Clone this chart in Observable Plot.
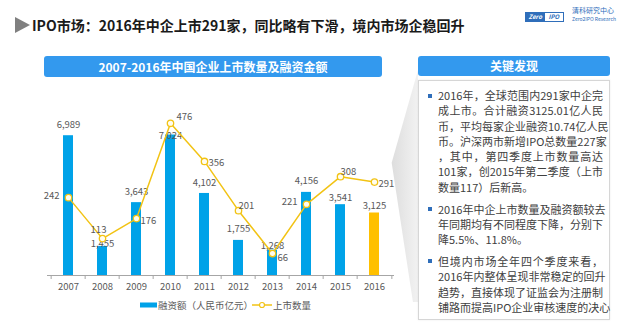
<!DOCTYPE html>
<html>
<head>
<meta charset="utf-8">
<script src="https://cdn.jsdelivr.net/npm/d3@7"></script>
<script src="https://cdn.jsdelivr.net/npm/@observablehq/plot@0.6"></script>
<style>
  html, body { margin: 0; padding: 0; background: #fff; }
  #page { position: relative; width: 631px; height: 322px; overflow: hidden; font-family: "Noto Sans CJK SC", "Noto Sans", sans-serif; }
  .abs { position: absolute; }
  #tri { left: 15px; top: 17px; width: 0; height: 0; border-top: 8px solid transparent; border-bottom: 8px solid transparent; border-left: 15px solid #808080; }
  #title { left: 32px; top: 15px; font-size: 14px; font-weight: bold; color: #1a1a1a; line-height: 20px; white-space: nowrap; }
  .banner { background: #3399EE; color: #fff; font-weight: bold; font-size: 12px; text-align: center; border-radius: 3px; line-height: 21px; height: 21px; }
  #b1 { left: 44px; top: 56px; width: 338px; }
  #b2 { left: 418px; top: 56px; width: 192px; height: 20px; line-height: 20px; }
  #box { left: 418px; top: 80px; width: 190px; height: 238px; border: 1px solid #d6d6d6; background: #fff; box-shadow: 0 0 2px rgba(0,0,0,0.08); }
  .para { position: relative; padding-left: 19px; margin-bottom: 6.5px; }
  .para::before { content: ""; position: absolute; left: 9px; top: 5.5px; width: 4px; height: 4px; background: #2F6EBA; }
  .ln { font-size: 11px; line-height: 15.3px; height: 15.3px; color: #404040; width: 165px; white-space: nowrap; text-align: justify; text-align-last: justify; }
  .ln.last { text-align-last: left; }
  #wedge { left: 390px; top: 70px; width: 28px; height: 232px; background: linear-gradient(to right, #dcdcdc, #f2f2f2); clip-path: polygon(100% 0%, 6% 40%, 82% 100%, 100% 100%); }
  #chart { left: 0; top: 80px; }
  #legend { left: 0; top: 298px; width: 400px; height: 14px; font-size: 9.5px; color: #595959; }
  #logo { left: 525px; top: 12px; width: 37px; height: 8px; border: 1px solid #2F6EBA; display: flex; font-size: 6px; line-height: 8px; font-weight: bold; font-style: italic; }
  #logo span { flex: 1; text-align: center; }
  #lt1 { left: 572px; top: 6px; font-size: 7px; color: #2F6EBA; white-space: nowrap; line-height: 8px; }
  #lt2 { left: 572px; top: 16px; font-size: 5px; color: #2F6EBA; white-space: nowrap; line-height: 6px; }
</style>
</head>
<body>
<div id="page">
  <div id="tri" class="abs"></div>
  <div id="title" class="abs">IPO市场：2016年中企上市291家，同比略有下滑，境内市场企稳回升</div>
  <div id="logo" class="abs"><span style="background:#2F6EBA;color:#fff">Zero</span><span style="color:#2F6EBA">IPO</span></div>
  <div id="lt1" class="abs">清科研究中心</div>
  <div id="lt2" class="abs">Zero2IPO Research</div>
  <div id="b1" class="abs banner">2007-2016年中国企业上市数量及融资金额</div>
  <div id="b2" class="abs banner">关键发现</div>
  <div id="wedge" class="abs"></div>
  <div id="box" class="abs">
    <div style="height:7px"></div>
    <div class="para">
      <div class="ln">2016年，全球范围内291家中企完</div>
      <div class="ln">成上市。合计融资3125.01亿人民</div>
      <div class="ln">币，平均每家企业融资10.74亿人民</div>
      <div class="ln">币。沪深两市新增IPO总数量227家</div>
      <div class="ln">，其中，第四季度上市数量高达</div>
      <div class="ln">101家，创2015年第二季度（上市</div>
      <div class="ln last">数量117）后新高。</div>
    </div>
    <div class="para">
      <div class="ln">2016年中企上市数量及融资额较去</div>
      <div class="ln">年同期均有不同程度下降，分别下</div>
      <div class="ln last">降5.5%、11.8%。</div>
    </div>
    <div class="para">
      <div class="ln">但境内市场全年四个季度来看，</div>
      <div class="ln">2016年内整体呈现非常稳定的回升</div>
      <div class="ln">趋势，直接体现了证监会为注册制</div>
      <div class="ln">铺路而提高IPO企业审核速度的决心</div>
    </div>
  </div>
  <div id="chart" class="abs"></div>
  <div id="legend" class="abs">
    <svg width="400" height="14" style="position:absolute;left:0;top:0;overflow:visible">
      <rect x="140" y="4.5" width="17" height="5" fill="#00A2E8"></rect>
      <text x="158" y="10.5" fill="#595959" font-size="9.5">融资额（人民币亿元）</text>
      <line x1="252" x2="272" y1="7" y2="7" stroke="#F2C314" stroke-width="1.5"></line>
      <circle cx="262" cy="7" r="2.5" fill="#fff" stroke="#F2C314" stroke-width="1.2"></circle>
      <text x="273" y="10.5" fill="#595959" font-size="9.5">上市数量</text>
    </svg>
  </div>
</div>
<script>
// ---- data ----
const years = ["2007","2008","2009","2010","2011","2012","2013","2014","2015","2016"];
const financing = [6989, 1455, 3643, 7024, 4102, 1755, 1268, 4156, 3541, 3125]; // 融资额（人民币亿元）
const listings = [242, 113, 176, 476, 356, 201, 66, 221, 308, 291];             // 上市数量

const data = years.map((year, i) => ({year, fin: financing[i], cnt: listings[i]}));

// ---- layout ----
const W = 400, H = 220, ML = 47, MR = 6, MT = 35, MB = 25;
const step = (W - ML - MR) / years.length;
const yMax = 8000;
const unitsPerPx = yMax / (H - MT - MB);
// secondary (listings) axis expressed in primary units
const LF = 0.3176 * unitsPerPx; // listings scale
const LO = 1 * unitsPerPx;      // listings zero offset
const ly = d => d.cnt * LF + LO;

const blue = "#00A2E8", gold = "#FFC000", lineC = "#F2C314", txt = "#595959";
const fmt = d3.format(",");
const F = "Noto Sans CJK SC, Noto Sans, sans-serif";
const fs = 9.5;

const inYears = ys => d => ys.includes(d.year);

const chart = Plot.plot({
  width: W, height: H,
  marginLeft: ML, marginRight: MR, marginTop: MT, marginBottom: MB,
  style: {fontFamily: F, fontSize: fs + "px", color: txt, background: "transparent", overflow: "visible"},
  x: {type: "band", domain: years, paddingInner: 0.72, paddingOuter: 0.36, label: null},
  y: {domain: [0, yMax], axis: null},
  marks: [
    Plot.barY(data, {filter: d => d.year !== "2016", x: "year", y: "fin", fill: blue}),
    Plot.barY(data, {filter: d => d.year === "2016", x: "year", y: "fin", fill: gold}),
    Plot.ruleY([0], {stroke: "#a6a6a6", strokeWidth: 1}),
    Plot.ruleX(years, {x: d => d, dx: -step / 2, y1: 0, y2: -4 * unitsPerPx, stroke: "#a6a6a6"}),
    Plot.ruleX([years[years.length - 1]], {x: d => d, dx: step / 2, y1: 0, y2: -4 * unitsPerPx, stroke: "#a6a6a6"}),
    Plot.axisX({tickSize: 0, tickPadding: 8, fontSize: fs, fill: txt, label: null}),
    // bar value labels
    Plot.text(data, {filter: inYears(["2007","2009","2011","2012","2014"]), x: "year", y: "fin", text: d => fmt(d.fin), dy: -11, fill: txt, fontSize: fs}),
    Plot.text(data, {filter: inYears(["2015","2016"]), x: "year", y: "fin", text: d => fmt(d.fin), dy: -7, fill: txt, fontSize: fs}),
    Plot.text(data, {filter: inYears(["2008"]), x: "year", y: "fin", text: d => fmt(d.fin), dy: -2, fill: txt, fontSize: fs}),
    Plot.text(data, {filter: inYears(["2013"]), x: "year", y: "fin", text: d => fmt(d.fin), dy: -4, fill: txt, fontSize: fs}),
    Plot.text(data, {filter: inYears(["2010"]), x: "year", y: "fin", text: d => fmt(d.fin), dy: 1, fill: txt, fontSize: fs}),
    // listings line
    Plot.line(data, {x: "year", y: ly, stroke: lineC, strokeWidth: 1.5}),
    Plot.dot(data, {x: "year", y: ly, r: 3.2, stroke: lineC, strokeWidth: 1.3, fill: "#fffdf0"}),
    // listings labels
    Plot.text(data, {filter: inYears(["2007","2014"]), x: "year", y: ly, text: d => String(d.cnt), textAnchor: "end", dx: -9, dy: -2, fill: txt, fontSize: fs}),
    Plot.text(data, {filter: inYears(["2009","2011","2016"]), x: "year", y: ly, text: d => String(d.cnt), textAnchor: "start", dx: 4, dy: 2, fill: txt, fontSize: fs}),
    Plot.text(data, {filter: inYears(["2013"]), x: "year", y: ly, text: d => String(d.cnt), textAnchor: "start", dx: 5, dy: 4, fill: txt, fontSize: fs}),
    Plot.text(data, {filter: inYears(["2010"]), x: "year", y: ly, text: d => String(d.cnt), textAnchor: "start", dx: 6, dy: -6, fill: txt, fontSize: fs}),
    Plot.text(data, {filter: inYears(["2012","2015"]), x: "year", y: ly, text: d => String(d.cnt), textAnchor: "start", dx: 0, dy: -5, fill: txt, fontSize: fs}),
    Plot.text(data, {filter: inYears(["2008"]), x: "year", y: ly, text: d => String(d.cnt), textAnchor: "middle", dx: -4, dy: -9, fill: txt, fontSize: fs})
  ]
});
document.getElementById("chart").appendChild(chart);
</script>
</body>
</html>
